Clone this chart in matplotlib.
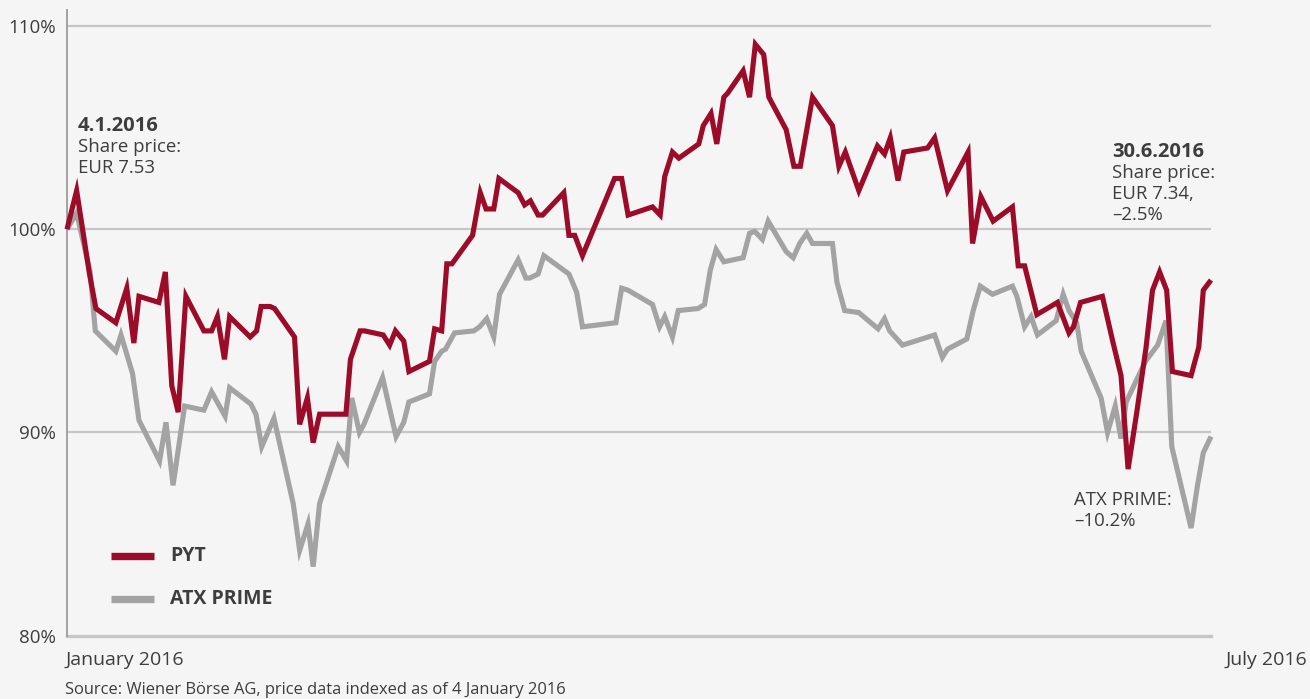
import matplotlib
matplotlib.use("Agg")
import matplotlib.pyplot as plt
from matplotlib.lines import Line2D

# ---- data (x = days since 4 January 2016, y = indexed price in %) ----
pyt_days = [0, 1.5, 3.5, 4.5, 7.6, 9.3, 10.4, 11.2, 14.3, 15.3, 16.3, 17.3, 18.5, 21.3, 22.5,
            23.4, 24.5, 25.3, 28.5, 29.5, 30.2, 31.6, 32.3, 35.4, 36.2, 37.4, 38.3, 39.3, 43.4,
            44.1, 45.6, 46.3, 49.2, 50.2, 51.1, 52.4, 53.2, 56.4, 57.2, 58.3, 59.1, 59.9, 63.1,
            64.3, 65.2, 66.4, 67.2, 70.2, 71.2, 72.1, 73.3, 74.0, 77.3, 78.1, 79.0, 80.2, 85.2,
            86.3, 87.3, 91.1, 92.3, 93.0, 94.2, 95.2, 98.3, 99.0, 100.2, 101.1, 102.2, 102.8,
            105.2, 106.2, 107.1, 108.4, 109.2, 111.9, 113.1, 114.1, 116.0, 119.1, 120.1, 121.1,
            123.2, 126.1, 127.2, 128.1, 129.3, 130.2, 133.9, 135.0, 137.0, 140.2, 140.9, 142.2,
            144.1, 147.1, 148.0, 149.0, 150.9, 154.1, 155.9, 156.6, 157.7, 161.1, 162.7, 164.0,
            165.1, 166.5, 167.9, 168.9, 170.0, 171.1, 172.0, 174.9, 176.1, 176.8, 178.0]
pyt_values = [100.0, 101.9, 97.8, 96.1, 95.4, 97.1, 94.4, 96.7, 96.4, 97.9, 92.3, 91.0, 96.7, 95.0, 95.0,
              95.7, 93.6, 95.7, 94.7, 95.0, 96.2, 96.2, 96.1, 94.7, 90.4, 91.7, 89.5, 90.9, 90.9,
              93.6, 95.0, 95.0, 94.8, 94.3, 95.0, 94.5, 93.0, 93.5, 95.1, 95.0, 98.3, 98.3, 99.7,
              101.8, 101.0, 101.0, 102.5, 101.8, 101.2, 101.4, 100.7, 100.7, 101.8, 99.7, 99.7, 98.7, 102.5,
              102.5, 100.7, 101.1, 100.7, 102.6, 103.8, 103.5, 104.2, 105.1, 105.7, 104.2, 106.5, 106.7,
              107.8, 106.5, 109.1, 108.6, 106.5, 104.9, 103.1, 103.1, 106.5, 105.1, 103.1, 103.8,
              101.9, 104.1, 103.7, 104.5, 102.4, 103.8, 104.0, 104.5, 101.9, 103.8, 99.3, 101.6,
              100.4, 101.1, 98.2, 98.2, 95.8, 96.4, 94.9, 95.2, 96.4, 96.7, 94.5, 92.8,
              88.2, 91.1, 94.2, 97.0, 97.9, 97.0, 93.0, 92.8, 94.2, 97.0, 97.5]

atx_days = [0, 1.5, 3.6, 4.4, 7.6, 8.4, 10.2, 11.2, 14.4, 15.4, 16.5, 18.3, 21.3, 22.5, 24.6, 25.3,
            28.6, 29.4, 30.3, 32.2, 35.2, 36.2, 37.5, 38.3, 39.3, 42.2, 43.5, 44.3, 45.5, 46.2,
            49.1, 51.2, 52.4, 53.2, 56.4, 57.2, 58.3, 58.9, 60.3, 63.3, 64.2, 65.3, 66.4, 67.3,
            70.2, 71.4, 72.0, 73.3, 74.2, 78.1, 79.3, 80.2, 85.4, 86.3, 87.3, 91.1, 92.2, 93.0,
            94.2, 95.1, 98.2, 99.2, 100.1, 101.0, 102.2, 105.2, 106.2, 107.0, 108.2, 109.1, 111.9,
            113.0, 114.0, 115.1, 116.0, 119.1, 119.8, 121.0, 123.2, 126.2, 127.2, 128.0, 130.0,
            135.0, 136.2, 137.0, 140.0, 141.0, 142.1, 144.0, 147.1, 147.8, 149.0, 150.0, 151.0,
            153.9, 155.0, 155.9, 157.1, 157.8, 160.9, 161.9, 163.1, 164.0, 164.8, 167.8, 169.7,
            171.0, 171.9, 174.9, 175.9, 176.8, 178.0]
atx_values = [100.0, 100.8, 97.9, 95.0, 94.0, 94.8, 92.9, 90.6, 88.6, 90.5, 87.4, 91.3, 91.1, 92.0, 90.8, 92.2,
              91.4, 90.9, 89.3, 90.7, 86.5, 84.2, 85.5, 83.4, 86.5, 89.3, 88.6, 91.7, 90.0, 90.4,
              92.7, 89.8, 90.5, 91.5, 91.9, 93.5, 94.0, 94.1, 94.9, 95.0, 95.2, 95.6, 94.7, 96.8,
              98.5, 97.6, 97.6, 97.8, 98.7, 97.8, 96.9, 95.2, 95.4, 97.1, 97.0, 96.3, 95.2, 95.7,
              94.7, 96.0, 96.1, 96.3, 98.0, 99.0, 98.4, 98.6, 99.8, 99.9, 99.5, 100.4, 98.9,
              98.6, 99.3, 99.8, 99.3, 99.3, 97.4, 96.0, 95.9, 95.1, 95.6, 95.0, 94.3,
              94.8, 93.7, 94.1, 94.6, 96.0, 97.2, 96.8, 97.2, 96.7, 95.2, 95.7, 94.8,
              95.5, 96.8, 96.0, 95.4, 94.0, 91.7, 90.0, 91.3, 89.7, 91.5, 93.5, 94.3,
              95.5, 89.3, 85.3, 87.4, 89.0, 89.8]

y_ticks = [80, 90, 100, 110]
y_tick_labels = ["80%", "90%", "100%", "110%"]
series_labels = ["PYT", "ATX PRIME"]

RED = "#9c0b27"
GRAY = "#a3a3a3"
GRID = "#c6c6c6"
TEXT = "#3d3d3d"
BG = "#f5f5f5"
FONT = ["Open Sans", "DejaVu Sans"]
plt.rcParams["font.family"] = FONT

W, H = 1310, 699
fig = plt.figure(figsize=(W / 100, H / 100), dpi=100, facecolor=BG)
ax = fig.add_axes([67 / W, 1 - 635.7 / H, (1211 - 67) / W, (635.7 - 9.8) / H])
ax.set_facecolor(BG)
ax.set_xlim(0, 178)
ax.set_ylim(80, 110.8)

for v in [90, 100, 110]:
    ax.axhline(v, color=GRID, lw=1.6, zorder=1)
ax.axhline(80, color=GRID, lw=2.4, zorder=1, clip_on=False)

ax.plot(atx_days, atx_values, color=GRAY, lw=3.7, solid_joinstyle="miter",
        solid_capstyle="butt", zorder=3, clip_on=False)
ax.plot(pyt_days, pyt_values, color=RED, lw=3.7, solid_joinstyle="miter",
        solid_capstyle="butt", zorder=4, clip_on=False)

for s in ["top", "right", "bottom"]:
    ax.spines[s].set_visible(False)
ax.spines["left"].set_color("#a2a2a6")
ax.spines["left"].set_linewidth(1.4)

ax.set_yticks(y_ticks)
ax.set_yticklabels(y_tick_labels, fontsize=13.5, color=TEXT)
ax.tick_params(axis="y", length=0, pad=8)
ax.set_xticks([])

# legend (drawn manually in figure pixels)
for py, col, lab in [(556, RED, series_labels[0]), (599, GRAY, series_labels[1])]:
    fig.add_artist(Line2D([111 / W, 153.5 / W], [1 - py / H, 1 - py / H], color=col,
                          lw=5.3, solid_capstyle="butt", transform=fig.transFigure))
    fig.text(170 / W, 1 - py / H, lab, fontsize=14, fontweight="bold", color=TEXT,
             ha="left", va="center", family=FONT)

# annotations
def put(px, py, s, bold=False, size=13.4, ha="left"):
    fig.text(px / W, 1 - py / H, s, fontsize=size, color=TEXT, ha=ha, va="center",
             fontweight="bold" if bold else "normal", family=FONT)

put(78, 126, "4.1.2016", bold=True, size=14.5)
put(78, 147, "Share price:")
put(78, 168, "EUR 7.53")

put(1112, 152, "30.6.2016", bold=True, size=14.5)
put(1112, 173, "Share price:")
put(1112, 194, "EUR 7.34,")
put(1112, 215, "–2.5%")

put(1074, 500, "ATX PRIME:")
put(1074, 521, "–10.2%")

put(65, 660, "January 2016", size=14)
put(1226, 660, "July 2016", size=14)
put(65, 690, "Source: Wiener Börse AG, price data indexed as of 4 January 2016", size=11.9)

fig.savefig("out.png", dpi=100, facecolor=BG)
